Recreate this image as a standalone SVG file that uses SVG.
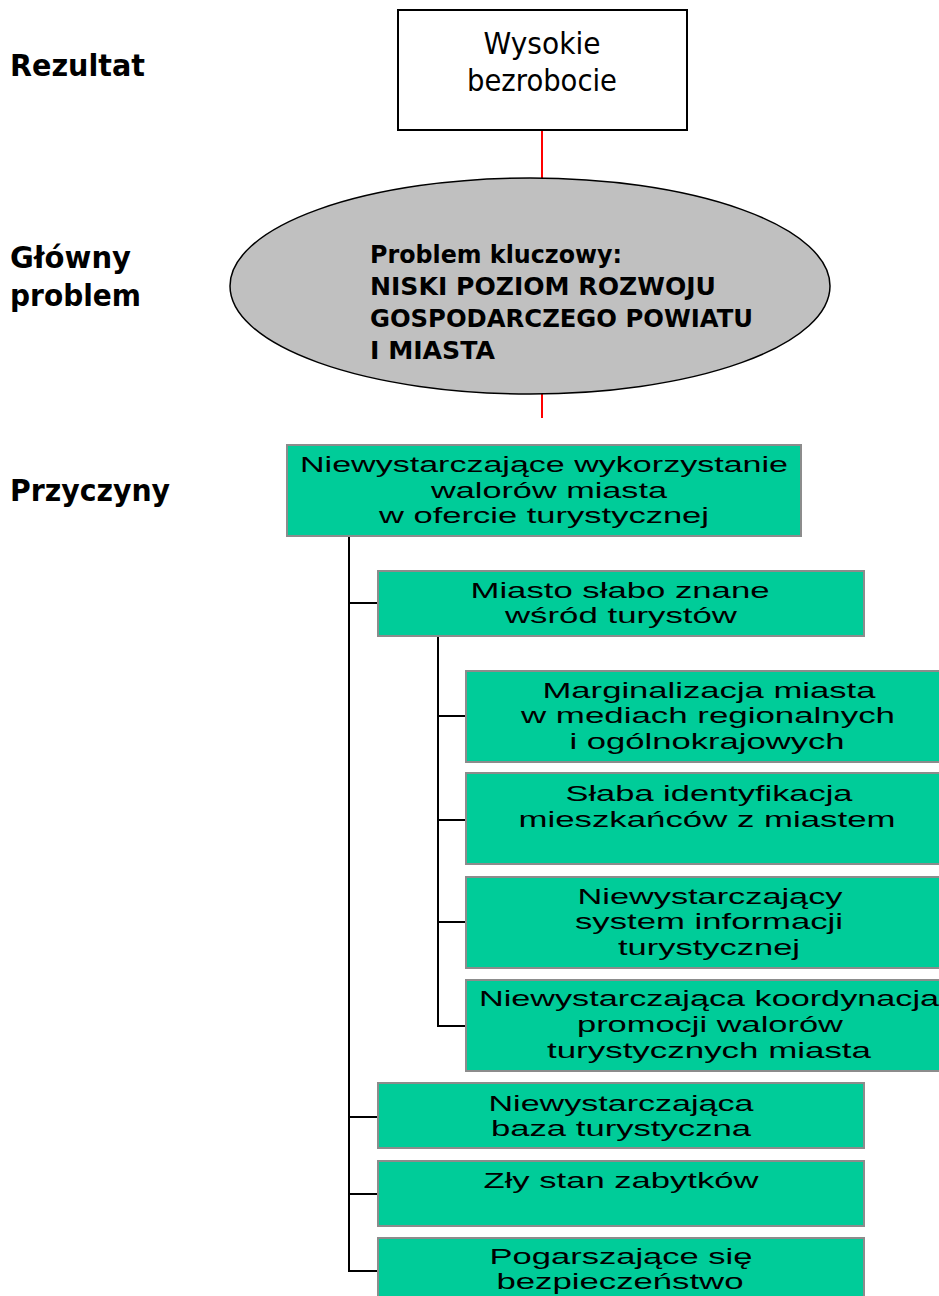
<svg xmlns="http://www.w3.org/2000/svg" width="939" height="1296" viewBox="0 0 939 1296">
<style>
.lbl{font-family:"DejaVu Sans","Liberation Sans",sans-serif;font-weight:bold;font-size:30px;fill:#000}
.top{font-family:"DejaVu Sans","Liberation Sans",sans-serif;font-size:30px;fill:#000;text-anchor:middle}
.ell{font-family:"DejaVu Sans","Liberation Sans",sans-serif;font-weight:bold;font-size:25px;fill:#000}
.g{fill:#00CC99;stroke:#8C8C8C;stroke-width:2}
.gt{font-family:"Liberation Sans",Arial,sans-serif;font-size:22px;fill:#000;text-anchor:middle}
.red{stroke:#FF0000;stroke-width:2;fill:none}
.blk{stroke:#000;stroke-width:2;fill:none}
</style>
<rect width="939" height="1296" fill="#FFFFFF"/>
<g id="labels">
<text class="lbl" x="10" y="76" textLength="135" lengthAdjust="spacingAndGlyphs">Rezultat</text>
<text class="lbl" x="10" y="268" textLength="121" lengthAdjust="spacingAndGlyphs">Główny</text>
<text class="lbl" x="10" y="306" textLength="131" lengthAdjust="spacingAndGlyphs">problem</text>
<text class="lbl" x="10" y="501" textLength="160" lengthAdjust="spacingAndGlyphs">Przyczyny</text>
</g>
<g id="connectors">
<line class="red" x1="542" y1="130" x2="542" y2="178"/>
<line class="red" x1="542" y1="394" x2="542" y2="418"/>
<polyline class="blk" points="349,536 349,1271 378,1271"/>
<line class="blk" x1="349" y1="603" x2="378" y2="603"/>
<line class="blk" x1="349" y1="1117" x2="378" y2="1117"/>
<line class="blk" x1="349" y1="1194" x2="378" y2="1194"/>
<polyline class="blk" points="438,636 438,1026 466,1026"/>
<line class="blk" x1="438" y1="716" x2="466" y2="716"/>
<line class="blk" x1="438" y1="820" x2="466" y2="820"/>
<line class="blk" x1="438" y1="922" x2="466" y2="922"/>
</g>
<g id="result">
<rect x="398" y="10" width="289" height="120" fill="#FFFFFF" stroke="#000" stroke-width="2"/>
<text class="top" x="542" y="54" textLength="117" lengthAdjust="spacingAndGlyphs">Wysokie</text>
<text class="top" x="542" y="91" textLength="150" lengthAdjust="spacingAndGlyphs">bezrobocie</text>
</g>
<g id="key-problem">
<ellipse cx="530" cy="286" rx="300" ry="108" fill="#C0C0C0" stroke="#000" stroke-width="1.5"/>
<text class="ell" x="370" y="263" textLength="252" lengthAdjust="spacingAndGlyphs">Problem kluczowy:</text>
<text class="ell" x="370" y="295" textLength="346" lengthAdjust="spacingAndGlyphs">NISKI POZIOM ROZWOJU</text>
<text class="ell" x="370" y="327" textLength="383" lengthAdjust="spacingAndGlyphs">GOSPODARCZEGO POWIATU</text>
<text class="ell" x="370" y="359" textLength="125" lengthAdjust="spacingAndGlyphs">I MIASTA</text>
</g>
<g id="cause-main">
<rect class="g" x="287" y="445" width="514" height="91"/>
<text class="gt" x="544" y="472" textLength="488" lengthAdjust="spacingAndGlyphs">Niewystarczające wykorzystanie</text>
<text class="gt" x="549" y="498" textLength="236" lengthAdjust="spacingAndGlyphs">walorów miasta</text>
<text class="gt" x="544" y="523" textLength="330" lengthAdjust="spacingAndGlyphs">w ofercie turystycznej</text>
</g>
<g id="cause-known">
<rect class="g" x="378" y="571" width="486" height="65"/>
<text class="gt" x="620" y="598" textLength="299" lengthAdjust="spacingAndGlyphs">Miasto słabo znane</text>
<text class="gt" x="621" y="623" textLength="232" lengthAdjust="spacingAndGlyphs">wśród turystów</text>
</g>
<g id="cause-media">
<rect class="g" x="466" y="671" width="486" height="91"/>
<text class="gt" x="709" y="698" textLength="333" lengthAdjust="spacingAndGlyphs">Marginalizacja miasta</text>
<text class="gt" x="708" y="723" textLength="374" lengthAdjust="spacingAndGlyphs">w mediach regionalnych</text>
<text class="gt" x="707" y="749" textLength="275" lengthAdjust="spacingAndGlyphs">i ogólnokrajowych</text>
</g>
<g id="cause-identity">
<rect class="g" x="466" y="773" width="486" height="91"/>
<text class="gt" x="709" y="801" textLength="287" lengthAdjust="spacingAndGlyphs">Słaba identyfikacja</text>
<text class="gt" x="707" y="827" textLength="377" lengthAdjust="spacingAndGlyphs">mieszkańców z miastem</text>
</g>
<g id="cause-info">
<rect class="g" x="466" y="877" width="486" height="91"/>
<text class="gt" x="710" y="904" textLength="265" lengthAdjust="spacingAndGlyphs">Niewystarczający</text>
<text class="gt" x="709" y="929" textLength="268" lengthAdjust="spacingAndGlyphs">system informacji</text>
<text class="gt" x="709" y="955" textLength="182" lengthAdjust="spacingAndGlyphs">turystycznej</text>
</g>
<g id="cause-coord">
<rect class="g" x="466" y="980" width="486" height="91"/>
<text class="gt" x="709" y="1006" textLength="460" lengthAdjust="spacingAndGlyphs">Niewystarczająca koordynacja</text>
<text class="gt" x="710" y="1032" textLength="266" lengthAdjust="spacingAndGlyphs">promocji walorów</text>
<text class="gt" x="709" y="1058" textLength="324" lengthAdjust="spacingAndGlyphs">turystycznych miasta</text>
</g>
<g id="cause-base">
<rect class="g" x="378" y="1083" width="486" height="65"/>
<text class="gt" x="621" y="1111" textLength="265" lengthAdjust="spacingAndGlyphs">Niewystarczająca</text>
<text class="gt" x="621" y="1136" textLength="260" lengthAdjust="spacingAndGlyphs">baza turystyczna</text>
</g>
<g id="cause-monuments">
<rect class="g" x="378" y="1161" width="486" height="65"/>
<text class="gt" x="621" y="1188" textLength="275" lengthAdjust="spacingAndGlyphs">Zły stan zabytków</text>
</g>
<g id="cause-safety">
<rect class="g" x="378" y="1238" width="486" height="70"/>
<text class="gt" x="621" y="1264" textLength="263" lengthAdjust="spacingAndGlyphs">Pogarszające się</text>
<text class="gt" x="620" y="1289" textLength="247" lengthAdjust="spacingAndGlyphs">bezpieczeństwo</text>
</g>
</svg>
